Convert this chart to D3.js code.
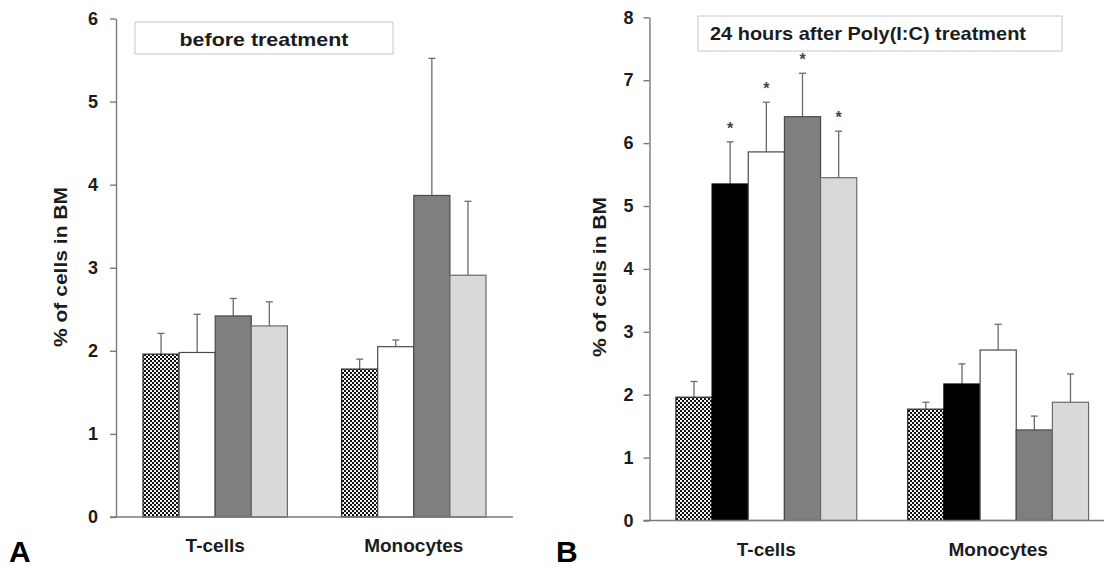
<!DOCTYPE html>
<html>
<head>
<meta charset="utf-8">
<script src="https://cdn.jsdelivr.net/npm/d3@7"></script>
<style>
  html, body { margin: 0; padding: 0; background: #fff; }
  svg { display: block; font-family: "Liberation Sans", Arial, sans-serif; }
</style>
</head>
<body>
<svg id="chart" width="1104" height="569"></svg>
<script>
// ---------------- data ----------------
const categories = ["T-cells", "Monocytes"];

// Panel A: before treatment (4 groups)
const seriesA = ["checker", "white", "dark", "light"];
const meansA_T = [1.96, 1.98, 2.42, 2.30];
const meansA_M = [1.78, 2.05, 3.87, 2.91];
const errA_T   = [0.25, 0.46, 0.21, 0.29];
const errA_M   = [0.12, 0.08, 1.65, 0.89];
const ticksA   = [0, 1, 2, 3, 4, 5, 6];

// Panel B: 24 h after Poly(I:C) (5 groups)
const seriesB = ["checker", "black", "white", "dark", "light"];
const meansB_T = [1.96, 5.35, 5.86, 6.42, 5.45];
const meansB_M = [1.77, 2.17, 2.71, 1.44, 1.88];
const errB_T   = [0.25, 0.67, 0.79, 0.69, 0.74];
const errB_M   = [0.11, 0.32, 0.41, 0.22, 0.45];
const starB_T  = [false, true, true, true, true];
const starB_M  = [false, false, false, false, false];
const ticksB   = [0, 1, 2, 3, 4, 5, 6, 7, 8];

const titleA = "before treatment";
const titleB = "24 hours after Poly(I:C) treatment";
const yLabel = "% of cells in BM";

// ---------------- styles ----------------
const fills = { checker: "url(#checker)", white: "#ffffff", dark: "#7f7f7f", light: "#d9d9d9", black: "#000000" };
const strokes = { checker: "#222", white: "#4a4a4a", dark: "#4a4a4a", light: "#6a6a6a", black: "#000" };
const axisColor = "#7a7a7a";
const textColor = "#1c1c1c";

const svg = d3.select("#chart");
const defs = svg.append("defs");
const pat = defs.append("pattern").attr("id", "checker").attr("patternUnits", "userSpaceOnUse")
  .attr("width", 4).attr("height", 4);
pat.append("rect").attr("width", 4).attr("height", 4).attr("fill", "#111");
pat.append("rect").attr("x", 0).attr("y", 0).attr("width", 2).attr("height", 2).attr("fill", "#f4f4f4");
pat.append("rect").attr("x", 2).attr("y", 2).attr("width", 2).attr("height", 2).attr("fill", "#f4f4f4");

function panel(cfg) {
  const g = svg.append("g");
  const y = d3.scaleLinear().domain(cfg.yDomain).range([cfg.y0, cfg.yTop]);
  const x0 = d3.scaleBand().domain(categories).range(cfg.xRange)
    .paddingInner(cfg.pIn).paddingOuter(cfg.pOut);
  const x1 = d3.scaleBand().domain(cfg.series.map((s, i) => i)).range([0, x0.bandwidth()]).padding(0);

  // y axis
  const ax = g.append("g").attr("transform", `translate(${cfg.axisX},0)`)
    .call(d3.axisLeft(y).tickValues(cfg.ticks).tickFormat(d3.format("d")).tickSize(6).tickPadding(cfg.tickPad).tickSizeOuter(0));
  ax.select(".domain").attr("stroke", axisColor).attr("stroke-width", 1.4);
  ax.selectAll(".tick line").attr("stroke", axisColor).attr("stroke-width", 1.4);
  ax.selectAll(".tick text").attr("fill", textColor).attr("font-size", 18).attr("font-weight", "bold");

  // bars
  const data = [];
  categories.forEach((c, ci) => {
    cfg.means[ci].forEach((v, si) => {
      data.push({ c, si, v, e: cfg.errs[ci][si], star: cfg.stars ? cfg.stars[ci][si] : false });
    });
  });
  const bx = d => x0(d.c) + x1(d.si);
  // error bars (behind bars)
  const eg = g.append("g");
  eg.selectAll("line.err").data(data).join("line")
    .attr("x1", d => bx(d) + x1.bandwidth() / 2).attr("x2", d => bx(d) + x1.bandwidth() / 2)
    .attr("y1", d => y(d.v)).attr("y2", d => y(d.v + d.e))
    .attr("stroke", "#6a6a6a").attr("stroke-width", 1.3);
  eg.selectAll("line.cap").data(data).join("line")
    .attr("x1", d => bx(d) + x1.bandwidth() / 2 - 3.5).attr("x2", d => bx(d) + x1.bandwidth() / 2 + 3.5)
    .attr("y1", d => y(d.v + d.e)).attr("y2", d => y(d.v + d.e))
    .attr("stroke", "#6a6a6a").attr("stroke-width", 1.3);

  g.append("g").selectAll("rect").data(data).join("rect")
    .attr("x", d => bx(d)).attr("width", x1.bandwidth())
    .attr("y", d => y(d.v)).attr("height", d => y(0) - y(d.v))
    .attr("fill", d => fills[cfg.series[d.si]])
    .attr("stroke", d => strokes[cfg.series[d.si]]).attr("stroke-width", 1.2);

  // asterisks
  g.append("g").selectAll("text").data(data.filter(d => d.star)).join("text")
    .attr("x", d => bx(d) + x1.bandwidth() / 2).attr("y", d => y(d.v + d.e) - 8)
    .attr("text-anchor", "middle").attr("font-size", 16).attr("font-weight", "bold")
    .attr("fill", "#444").text("*");

  // x baseline
  g.append("line").attr("x1", cfg.axisX - 6).attr("x2", cfg.xLineEnd)
    .attr("y1", y(0)).attr("y2", y(0)).attr("stroke", axisColor).attr("stroke-width", 1.4);

  // category labels
  g.append("g").selectAll("text").data(categories).join("text")
    .attr("x", c => x0(c) + x0.bandwidth() / 2).attr("y", cfg.catY)
    .attr("text-anchor", "middle").attr("font-size", 19).attr("font-weight", "bold")
    .attr("fill", textColor).text(c => c);

  // y label
  g.append("text").attr("transform", `translate(${cfg.yLabX},${cfg.yLabY}) rotate(-90)`)
    .attr("text-anchor", "middle").attr("font-size", 19).attr("font-weight", "bold")
    .attr("textLength", 160).attr("lengthAdjust", "spacingAndGlyphs")
    .attr("fill", textColor).text(yLabel);

  // title box
  g.append("rect").attr("x", cfg.box[0]).attr("y", cfg.box[1]).attr("width", cfg.box[2]).attr("height", cfg.box[3])
    .attr("fill", "#fff").attr("stroke", "#c8c8c8").attr("stroke-width", 1);
  g.append("text").attr("x", cfg.titleX).attr("y", cfg.titleY)
    .attr("text-anchor", cfg.titleAnchor).attr("font-size", 19).attr("font-weight", "bold")
    .attr("textLength", cfg.titleLen).attr("lengthAdjust", "spacingAndGlyphs")
    .attr("fill", textColor).text(cfg.title);

  // panel letter
  g.append("text").attr("x", cfg.letterX).attr("y", cfg.letterY)
    .attr("font-size", 30).attr("font-weight", "bold").attr("fill", "#000").text(cfg.letter);
}

panel({
  series: seriesA, means: [meansA_T, meansA_M], errs: [errA_T, errA_M], stars: null,
  yDomain: [0, 6], ticks: ticksA, y0: 517, yTop: 18.5,
  axisX: 116, xRange: [116, 513], pIn: 0.273, pOut: 0.136, xLineEnd: 513, tickPad: 12,
  catY: 552, yLabX: 67, yLabY: 267,
  box: [135, 22, 258, 32], title: titleA, titleX: 264, titleY: 46, titleAnchor: "middle", titleLen: 169,
  letter: "A", letterX: 9, letterY: 562
});

panel({
  series: seriesB, means: [meansB_T, meansB_M], errs: [errB_T, errB_M], stars: [starB_T, starB_M],
  yDomain: [0, 8], ticks: ticksB, y0: 520.5, yTop: 17.3,
  axisX: 649.5, xRange: [649.5, 1115], pIn: 0.22, pOut: 0.114, xLineEnd: 1104, tickPad: 10,
  catY: 556, yLabX: 606, yLabY: 277,
  box: [698, 16, 364, 35], title: titleB, titleX: 710, titleY: 40, titleAnchor: "start", titleLen: 316,
  letter: "B", letterX: 556, letterY: 562
});
</script>
</body>
</html>
